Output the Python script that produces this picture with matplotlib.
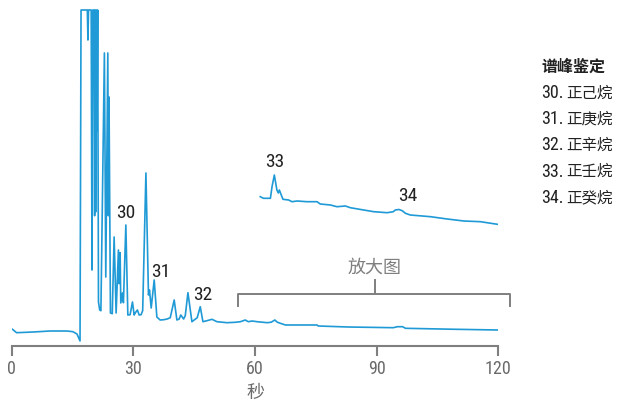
import matplotlib
matplotlib.use("Agg")
import matplotlib.pyplot as plt
import numpy as np

# chromatogram (time in s, detector signal in arbitrary units)
trace_time = [0.2, 1.2, 5.3, 9.5, 13.6, 15.1, 16.1, 16.85, 17.1, 18.65, 18.8, 18.95,
              19.6, 19.8, 20.0, 20.3, 20.45, 20.6, 20.7, 20.9, 21.05, 21.2, 21.4, 21.7,
              22.0, 22.86, 23.2, 23.7, 23.85, 24.0, 24.35, 24.8, 25.26, 25.75, 26.32,
              26.49, 26.74, 26.9, 27.3, 27.55, 28.15, 28.64, 29.2, 29.78, 30.2, 30.5,
              31.0, 31.43, 31.9, 32.3, 33.1, 33.73, 33.98, 34.4, 35.14, 35.8, 36.6,
              37.5, 38.35, 39.1, 40.07, 40.74, 41.3, 41.7, 42.4, 42.8, 43.46, 44.44,
              45.0, 45.75, 46.5, 47.16, 48.15, 49.4, 50.6, 53.1, 55.1, 56.4, 57.6,
              58.35, 59.3, 60.5, 61.8, 63.0, 64.0, 64.9, 65.5, 66.25, 67.5, 75.3, 75.6,
              83.0, 94.1, 95.1, 96.4, 97.1, 108.2, 119.8]
trace_signal = [16.4, 13.0, 13.7, 14.7, 14.7, 14.0, 11.7, 4.7, 335.7, 335.7, 305.7, 335.7,
                335.7, 75.7, 335.7, 335.7, 130.0, 335.7, 133.7, 335.7, 215.0, 335.7, 43.7, 35.7,
                35.0, 292.7, 68.7, 292.7, 130.0, 248.7, 32.7, 32.0, 108.7, 32.7, 95.7,
                62.0, 93.0, 42.7, 52.7, 43.0, 120.7, 30.7, 31.0, 43.7, 30.7, 33.0,
                35.7, 30.7, 31.0, 35.0, 172.7, 50.7, 55.7, 37.7, 65.7, 28.7, 25.7,
                26.0, 26.7, 28.0, 45.7, 25.7, 26.7, 30.7, 26.7, 30.0, 53.0, 24.0,
                25.7, 28.0, 39.0, 24.0, 25.0, 26.4, 24.0, 23.0, 23.4, 24.0, 25.7,
                24.0, 24.7, 24.0, 23.5, 23.0, 23.5, 25.7, 23.5, 22.4, 20.7, 20.7, 19.7,
                18.7, 18.0, 19.0, 19.0, 17.4, 16.5, 15.7]

# magnified view of the late part of the run
zoom_time = [61.3, 62.1, 63.8, 64.2, 64.77, 65.4, 65.75, 66.0, 66.9, 68.3, 69.1, 70.4,
             72.8, 75.3, 76.1, 78.6, 80.2, 82.3, 83.5, 86.8, 89.3, 92.6, 94.1, 94.6,
             95.5, 96.3, 97.1, 98.3, 103.3, 107.4, 111.5, 115.6, 119.8]
zoom_signal = [33.3, 31.7, 31.7, 43.3, 55.0, 40.0, 37.0, 40.0, 30.7, 30.0, 28.3, 29.0,
               28.3, 28.3, 26.0, 25.0, 23.3, 24.0, 22.3, 20.0, 18.3, 17.3, 18.3, 20.0,
               20.5, 19.3, 16.7, 15.0, 13.3, 11.0, 9.0, 8.3, 5.7]
zoom_window = [55.9, 123.0]

peak_ids = ["30", "31", "32", "33", "34"]
peak_times = [28.15, 35.14, 46.5, 64.77, 95.5]
peak_names = ["正己烷", "正庚烷", "正辛烷", "正壬烷", "正癸烷"]
x_ticks = [0, 30, 60, 90, 120]

BLUE = "#1f9ad6"
GRAY = "#7f7f7f"
DARK = "#222222"
plt.rcParams["font.family"] = ["Roboto Condensed", "Noto Sans CJK SC", "DejaVu Sans"]
CJK = ["Noto Sans CJK SC", "DejaVu Sans"]

W, H = 621, 404
fig = plt.figure(figsize=(W / 100, H / 100), dpi=100)

x0, x1 = 11.7, 498.3          # pixel positions of t=0 and t=120
y_axis = 345.7                 # pixel row of the time axis
ax = fig.add_axes([x0 / W, (H - y_axis) / H, (x1 - x0) / W, y_axis / H])
ax.set_xlim(0, 120)
ax.set_ylim(0, 345.7)
ax.plot(trace_time, trace_signal, color=BLUE, lw=1.2)

for s in ["top", "right", "left"]:
    ax.spines[s].set_visible(False)
ax.spines["bottom"].set_color(GRAY)
ax.spines["bottom"].set_linewidth(1.5)
ax.set_yticks([])
ax.set_xticks(x_ticks)
ax.tick_params(axis="x", direction="out", length=7.5, width=1.5, color=GRAY,
               labelcolor="#6a6a6a", labelsize=13, pad=3)
ax.set_xlabel("秒", color="#6a6a6a", fontsize=13, labelpad=4, family=CJK)
ax.patch.set_alpha(0)

# inset trace, same time scale, magnified signal
axz = fig.add_axes([x0 / W, (H - 230) / H, (x1 - x0) / W, 60 / H])
axz.set_xlim(0, 120)
axz.set_ylim(0, 60)
axz.plot(zoom_time, zoom_signal, color=BLUE, lw=1.2)
axz.axis("off")

# bracket marking the magnified range
lo, hi = zoom_window
mid = 89.5
ax.plot([lo, lo, hi, hi], [39.7, 51.7, 51.7, 39.7], color=GRAY, lw=1.4, clip_on=False)
ax.plot([mid, mid], [51.7, 65.7], color=GRAY, lw=1.4, clip_on=False)
ax.text(mid, 77.7, "放大图", color=GRAY, fontsize=13, ha="center", va="center", family=CJK)

# peak labels
offsets = [(0, 5), (4.5, 2.5), (1.5, 4.5), (0.5, 6), (6, 6)]
for pid, rt, (dx, dy) in zip(peak_ids, peak_times, offsets):
    if rt > 60:
        target = axz
        yv = np.interp(rt, zoom_time, zoom_signal)
    else:
        target = ax
        yv = np.interp(rt, trace_time, trace_signal)
    target.annotate(pid, (rt, yv), xytext=(dx, dy), textcoords="offset points",
                    ha="center", va="baseline", fontsize=14, color=DARK,
                    annotation_clip=False)

# peak identification list
fig.text(541 / W, 1 - 67 / H, "谱峰鉴定", fontsize=11.5, fontweight="bold",
         color=DARK, va="center", ha="left", family=CJK)
for i, (pid, name) in enumerate(zip(peak_ids, peak_names)):
    y = 1 - (93 + 26.2 * i) / H
    fig.text(541 / W, y, f"{pid}.", fontsize=13, color=DARK, va="center", ha="left")
    fig.text(566 / W, y, name, fontsize=11.2, color=DARK, va="center", ha="left",
             family=CJK)

fig.savefig("out.png", dpi=100)
